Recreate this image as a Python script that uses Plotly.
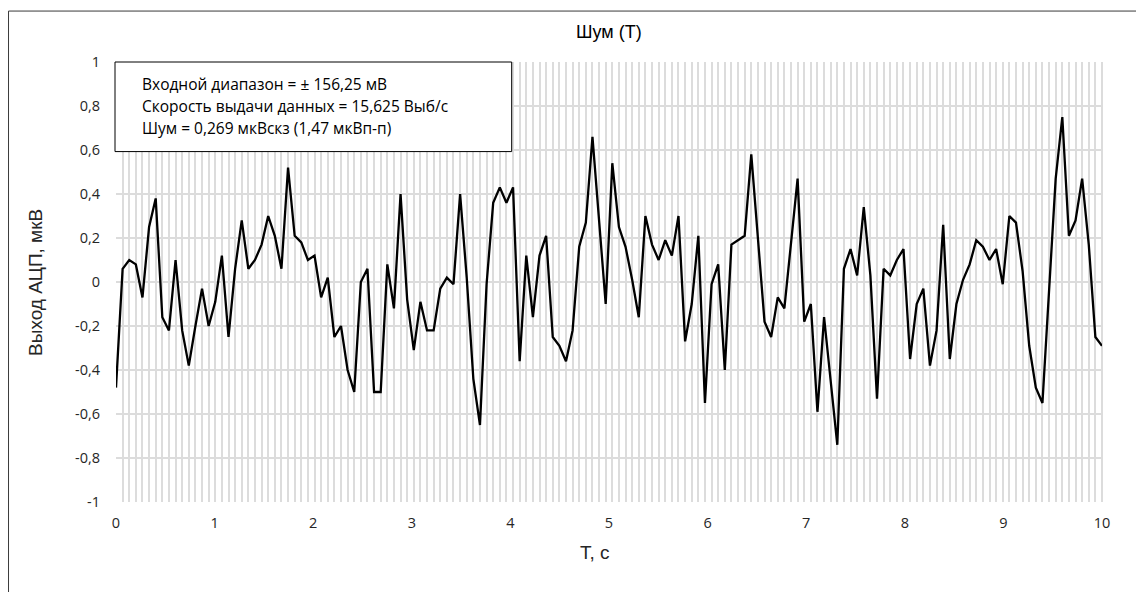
import numpy as np
import plotly.graph_objects as go

# ADC noise samples, uV
noise_uv = [
    -0.48, 0.06, 0.10, 0.08, -0.07, 0.25, 0.38, -0.16, -0.22, 0.10,
    -0.22, -0.38, -0.20, -0.03, -0.20, -0.09, 0.12, -0.25, 0.06, 0.28,
    0.06, 0.10, 0.17, 0.30, 0.21, 0.06, 0.52, 0.21, 0.18, 0.10,
    0.12, -0.07, 0.02, -0.25, -0.20, -0.40, -0.50, 0.00, 0.06, -0.50,
    -0.50, 0.08, -0.12, 0.40, -0.08, -0.31, -0.09, -0.22, -0.22, -0.03,
    0.02, -0.01, 0.40, 0.02, -0.44, -0.65, -0.01, 0.36, 0.43, 0.36,
    0.43, -0.36, 0.12, -0.16, 0.12, 0.21, -0.25, -0.29, -0.36, -0.22,
    0.16, 0.27, 0.66, 0.27, -0.10, 0.54, 0.25, 0.16, 0.01, -0.16,
    0.30, 0.17, 0.10, 0.19, 0.12, 0.30, -0.27, -0.10, 0.21, -0.55,
    -0.01, 0.08, -0.40, 0.17, 0.19, 0.21, 0.58, 0.20, -0.18, -0.25,
    -0.07, -0.12, 0.18, 0.47, -0.18, -0.10, -0.59, -0.16, -0.45, -0.74,
    0.06, 0.15, 0.03, 0.34, 0.03, -0.53, 0.06, 0.03, 0.10, 0.15,
    -0.35, -0.10, -0.03, -0.38, -0.22, 0.26, -0.35, -0.10, 0.01, 0.08,
    0.19, 0.16, 0.10, 0.15, -0.01, 0.30, 0.27, 0.05, -0.29, -0.48,
    -0.55, -0.01, 0.47, 0.75, 0.21, 0.28, 0.47, 0.17, -0.25, -0.29,
]
# samples are evenly spaced over the 10 s window
t_s = np.linspace(0, 10, len(noise_uv))

x_ticks = list(range(0, 11))
y_ticks = [-1, -0.8, -0.6, -0.4, -0.2, 0, 0.2, 0.4, 0.6, 0.8, 1]
y_ticktext = ["-1", "-0,8", "-0,6", "-0,4", "-0,2", "0", "0,2", "0,4", "0,6", "0,8", "1"]

info_lines = [
    "Входной диапазон = ± 156,25 мВ",
    "Скорость выдачи данных = 15,625 Выб/с",
    "Шум = 0,269 мкВскз (1,47 мкВп-п)",
]

grid = "#dcdcdc"
tick_font = dict(family="Open Sans", size=14.5, color="#262626")
title_font = dict(family="Liberation Sans", size=19, color="#262626")

fig = go.Figure()
fig.add_trace(go.Scatter(
    x=t_s, y=noise_uv, mode="lines",
    line=dict(color="black", width=2.3),
    showlegend=False,
))

# vertical grid: one line per sample only (no extra lines at the integer ticks)
fig.update_xaxes(
    range=[0, 10], tickvals=x_ticks, showgrid=False,
    minor=dict(dtick=10 / (len(noise_uv) - 1), tick0=0, showgrid=True,
               gridcolor=grid, gridwidth=2),
    zeroline=False, showline=False, ticks="", ticklabelstandoff=10,
    tickfont=tick_font,
)
fig.update_yaxes(
    range=[-1, 1], tickvals=y_ticks, ticktext=y_ticktext,
    showgrid=True, gridcolor=grid, gridwidth=2,
    zeroline=False, showline=False, ticks="", ticklabelstandoff=15,
    tickfont=tick_font,
)

shapes = [
    # chart area frame, runs off the right and bottom of the page
    dict(type="rect", xref="paper", yref="paper", x0=-0.109, x1=1.2, y0=-0.3, y1=1.1158,
         line=dict(color="#3a3a3a", width=1), layer="below"),
    # right edge grid line at t = 10
    dict(type="line", xref="paper", yref="paper", x0=1, x1=1, y0=0, y1=1,
         line=dict(color=grid, width=2), layer="below"),
    # info box
    dict(type="rect", xref="paper", yref="paper", x0=-0.001, x1=0.4013, y0=0.7964, y1=1.0,
         line=dict(color="black", width=1), fillcolor="white", layer="above"),
]

annotations = [
    dict(text="Шум (Т)", x=0.5, y=1.0688, xref="paper", yref="paper",
         xanchor="center", yanchor="middle", showarrow=False,
         font=dict(family="Liberation Sans", size=18, color="black")),
    dict(text="Выход АЦП, мкВ", x=-0.0822, y=0.5, xref="paper", yref="paper",
         xanchor="center", yanchor="middle", textangle=-90, showarrow=False,
         font=title_font),
    dict(text="Т, с", x=0.486, y=-0.1146, xref="paper", yref="paper",
         xanchor="center", yanchor="middle", showarrow=False, font=title_font),
]
for line_text, yp in zip(info_lines, [0.9489, 0.899, 0.8502]):
    annotations.append(dict(
        text=line_text, x=0.024, y=yp, xref="paper", yref="paper",
        xanchor="left", yanchor="middle", showarrow=False,
        font=dict(family="Open Sans", size=15.5, color="black"),
    ))

# the page body adds an 8 px offset, so the figure is 8 px smaller each way
fig.update_layout(
    width=1136, height=584,
    margin=dict(l=108, r=42, t=54, b=89.5),
    paper_bgcolor="white", plot_bgcolor="white",
    separators=", ",
    shapes=shapes, annotations=annotations,
)

fig.write_html("out.html")
